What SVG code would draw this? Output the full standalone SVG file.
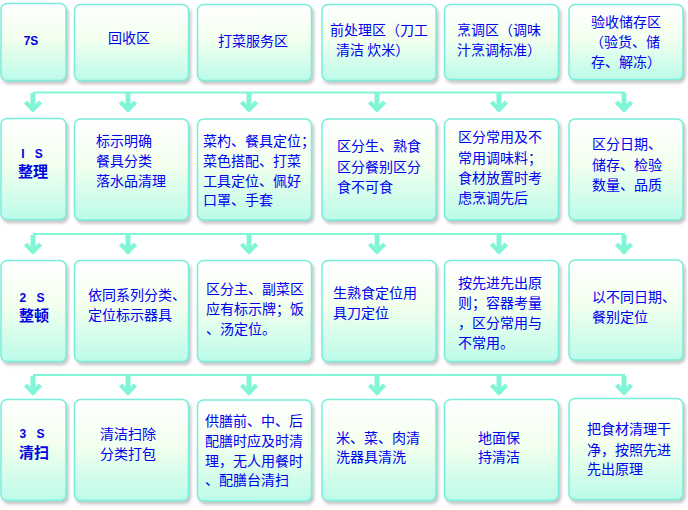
<svg xmlns="http://www.w3.org/2000/svg" width="688" height="510" viewBox="0 0 688 510">
<defs>
<linearGradient id="g" x1="0" y1="0" x2="0" y2="1">
<stop offset="0" stop-color="#ffffff"/>
<stop offset="0.45" stop-color="#f3ffee"/>
<stop offset="1" stop-color="#bcfbe9"/>
</linearGradient>
<filter id="sh" x="-10%" y="-10%" width="130%" height="130%">
<feDropShadow dx="2" dy="3" stdDeviation="1.8" flood-color="#808080" flood-opacity="0.45"/>
</filter>
<g id="arr">
<rect x="-2.5" y="0" width="5" height="18" fill="#80f6d6"/>
<path d="M-7.5,9 L0,16.5 L7.5,9" fill="none" stroke="#80f6d6" stroke-width="4.5"/>
</g>
</defs>
<style>
.b{fill:url(#g);stroke:#76eedb;stroke-width:1.5;filter:url(#sh)}
.t{font-family:"Noto Sans CJK SC","Noto Sans CJK JP",sans-serif;font-size:14px;fill:#0000f0}
.h{font-family:"Liberation Sans","Noto Sans CJK SC",sans-serif;font-size:12px;font-weight:bold;fill:#0000e0;text-anchor:middle}
.hc{font-family:"Noto Sans CJK SC",sans-serif;font-size:15px;font-weight:bold;fill:#0000e0;text-anchor:middle}
.ln{stroke:#80f6d6;stroke-width:2;fill:none}
</style>
<g id="connectors">
<line class="ln" x1="33" y1="92.5" x2="625" y2="92.5"/>
<line class="ln" x1="33" y1="234" x2="625" y2="234"/>
<line class="ln" x1="33" y1="375" x2="625" y2="375"/>
<use href="#arr" x="33" y="93"/><use href="#arr" x="128" y="93"/><use href="#arr" x="249" y="93"/><use href="#arr" x="377" y="93"/><use href="#arr" x="499" y="93"/><use href="#arr" x="624" y="93"/>
<use href="#arr" x="33" y="235"/><use href="#arr" x="128" y="235"/><use href="#arr" x="249" y="235"/><use href="#arr" x="377" y="235"/><use href="#arr" x="499" y="235"/><use href="#arr" x="624" y="235"/>
<use href="#arr" x="33" y="376"/><use href="#arr" x="128" y="376"/><use href="#arr" x="249" y="376"/><use href="#arr" x="377" y="376"/><use href="#arr" x="499" y="376"/><use href="#arr" x="624" y="376"/>
</g>
<!-- Row 0 -->
<g id="r0c0"><rect class="b" x="1" y="3.5" width="65" height="77" rx="6"/><text class="h" x="31" y="45">7S</text></g>
<g id="r0c1"><rect class="b" x="74.5" y="4.5" width="114" height="76" rx="6"/><text class="t" x="129" y="43" text-anchor="middle">回收区</text></g>
<g id="r0c2"><rect class="b" x="197.5" y="4.5" width="114" height="76" rx="6"/><text class="t" x="253" y="46" text-anchor="middle">打菜服务区</text></g>
<g id="r0c3"><rect class="b" x="322" y="4.5" width="114" height="76" rx="6"/><text class="t" x="330" y="35">前处理区（刀工</text><text class="t" x="336" y="55">清洁  炊米）</text></g>
<g id="r0c4"><rect class="b" x="444.5" y="4.5" width="114" height="75" rx="6"/><text class="t" x="457" y="35">烹调区（调味</text><text class="t" x="457" y="55">汁烹调标准）</text></g>
<g id="r0c5"><rect class="b" x="569" y="4.5" width="114" height="75" rx="6"/><text class="t" x="591" y="27">验收储存区</text><text class="t" x="590" y="47">（验货、储</text><text class="t" x="591" y="67">存、解冻）</text></g>
<!-- Row 1 -->
<g id="r1c0"><rect class="b" x="1" y="118.5" width="65" height="101" rx="6"/><text class="h" x="32" y="158" word-spacing="7">I S</text><text class="hc" x="33" y="177">整理</text></g>
<g id="r1c1"><rect class="b" x="74.5" y="119" width="114" height="101" rx="6"/><text class="t" x="96" y="146">标示明确</text><text class="t" x="96" y="166">餐具分类</text><text class="t" x="96" y="186">落水品清理</text></g>
<g id="r1c2"><rect class="b" x="197.5" y="119" width="114" height="101" rx="6"/><text class="t" x="203" y="146">菜杓、餐具定位；</text><text class="t" x="203" y="166">菜色搭配、打菜</text><text class="t" x="203" y="186">工具定位、佩好</text><text class="t" x="203" y="205">口罩、手套</text></g>
<g id="r1c3"><rect class="b" x="322" y="119" width="114" height="101" rx="6"/><text class="t" x="337" y="151">区分生、熟食</text><text class="t" x="337" y="172">区分餐别区分</text><text class="t" x="337" y="192">食不可食</text></g>
<g id="r1c4"><rect class="b" x="444.5" y="119" width="114" height="101" rx="6"/><text class="t" x="458" y="142">区分常用及不</text><text class="t" x="458" y="163">常用调味料；</text><text class="t" x="458" y="183">食材放置时考</text><text class="t" x="458" y="203">虑烹调先后</text></g>
<g id="r1c5"><rect class="b" x="569" y="119" width="114" height="101" rx="6"/><text class="t" x="592" y="149">区分日期、</text><text class="t" x="592" y="170">储存、检验</text><text class="t" x="592" y="190">数量、品质</text></g>
<!-- Row 2 -->
<g id="r2c0"><rect class="b" x="1" y="260.5" width="65" height="101" rx="6"/><text class="h" x="32" y="302" word-spacing="7">2 S</text><text class="hc" x="34" y="321">整顿</text></g>
<g id="r2c1"><rect class="b" x="74.5" y="260.5" width="114" height="101" rx="6"/><text class="t" x="88" y="300">依同系列分类、</text><text class="t" x="88" y="320">定位标示器具</text></g>
<g id="r2c2"><rect class="b" x="197.5" y="260.5" width="114" height="101" rx="6"/><text class="t" x="206" y="294">区分主、副菜区</text><text class="t" x="206" y="314">应有标示牌；饭</text><text class="t" x="206" y="334">、汤定位。</text></g>
<g id="r2c3"><rect class="b" x="322" y="260.5" width="114" height="101" rx="6"/><text class="t" x="333" y="298">生熟食定位用</text><text class="t" x="333" y="318">具刀定位</text></g>
<g id="r2c4"><rect class="b" x="444.5" y="260.5" width="114" height="101" rx="6"/><text class="t" x="458" y="288">按先进先出原</text><text class="t" x="458" y="308">则；容器考量</text><text class="t" x="458" y="328">，区分常用与</text><text class="t" x="458" y="348">不常用。</text></g>
<g id="r2c5"><rect class="b" x="569" y="260" width="114" height="100" rx="6"/><text class="t" x="592" y="302">以不同日期、</text><text class="t" x="592" y="322">餐别定位</text></g>
<!-- Row 3 -->
<g id="r3c0"><rect class="b" x="1" y="399.5" width="65" height="101" rx="6"/><text class="h" x="32" y="438" word-spacing="7">3 S</text><text class="hc" x="34" y="458">清扫</text></g>
<g id="r3c1"><rect class="b" x="74.5" y="399.5" width="114" height="101" rx="6"/><text class="t" x="100" y="439">清洁扫除</text><text class="t" x="100" y="459">分类打包</text></g>
<g id="r3c2"><rect class="b" x="197.5" y="400" width="114" height="101" rx="6"/><text class="t" x="205" y="426">供膳前、中、后</text><text class="t" x="205" y="446">配膳时应及时清</text><text class="t" x="205" y="466">理，无人用餐时</text><text class="t" x="205" y="485">、配膳台清扫</text></g>
<g id="r3c3"><rect class="b" x="322" y="399.5" width="114" height="101" rx="6"/><text class="t" x="336" y="443">米、菜、肉清</text><text class="t" x="336" y="462">洗器具清洗</text></g>
<g id="r3c4"><rect class="b" x="444.5" y="399.5" width="114" height="101" rx="6"/><text class="t" x="478" y="443">地面保</text><text class="t" x="478" y="462">持清洁</text></g>
<g id="r3c5"><rect class="b" x="569" y="398.5" width="114" height="101" rx="6"/><text class="t" x="587" y="434">把食材清理干</text><text class="t" x="587" y="455">净，按照先进</text><text class="t" x="587" y="474">先出原理</text></g>
</svg>
